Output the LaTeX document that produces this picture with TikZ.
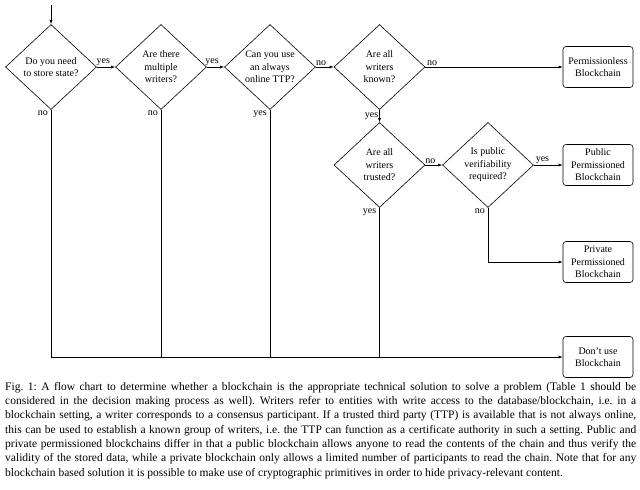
\documentclass[tikz,border=0pt]{standalone}
\usepackage{fontspec}
\setmainfont{Liberation Serif}
\usetikzlibrary{shapes.geometric,arrows.meta}
\begin{document}
\frenchspacing
\begin{tikzpicture}[x=1pt,y=-1pt,
  dec/.style={diamond, draw, line width=0.6pt, minimum width=91pt, minimum height=85pt,
    inner sep=0pt, align=center, font=\fontsize{10}{12.5}\selectfont},
  term/.style={rectangle, rounded corners=3pt, draw, line width=0.6pt, minimum width=70pt,
    minimum height=41pt, inner sep=1pt, align=center, font=\fontsize{10}{12.5}\selectfont},
  arr/.style={-{Latex[length=4pt,width=3pt]}, line width=0.6pt},
  ln/.style={line width=0.6pt},
  lbl/.style={font=\fontsize{10}{12}\selectfont, inner sep=1pt}]
\useasboundingbox (0,0) rectangle (640,490);
\fill[white] (0,0) rectangle (640,490);

\node[dec] (d1) at (51,67) {Do you need\\to store state?};
\node[dec] (d2) at (161,67) {Are there\\multiple\\writers?};
\node[dec] (d3) at (270,67) {Can you use\\an always\\online TTP?};
\node[dec] (d4) at (379.5,67) {Are all\\writers\\known?};
\node[dec] (d5) at (379.5,165) {Are all\\writers\\trusted?};
\node[dec] (d6) at (488,165) {Is public\\verifiability\\required?};
\node[term] (pl) at (598,67) {Permissionless\\Blockchain};
\node[term] (pub) at (598,165) {Public\\Permissioned\\Blockchain};
\node[term] (priv) at (598,262) {Private\\Permissioned\\Blockchain};
\node[term] (dont) at (598,357) {Don't use\\Blockchain};
\coordinate (start) at (51,5);

\draw[arr] (start) -- (d1);
\draw[arr] (d1) -- node[lbl, above, pos=0.35] {yes} (d2);
\draw[arr] (d2) -- node[lbl, above, pos=0.3] {yes} (d3);
\draw[arr] (d3) -- node[lbl, above, pos=0.3] {no} (d4);
\draw[arr] (d4) -- node[lbl, above, pos=0.05] {no} (pl);
\draw[arr] (d4) -- node[lbl, left] {yes} (d5);
\draw[arr] (d5) -- node[lbl, above, pos=0.3] {no} (d6);
\draw[arr] (d6) -- node[lbl, above, pos=0.3] {yes} (pub);

\draw[arr] (d1.south) |- (dont.west);
\draw[ln] (d2.south) -- (d2.south |- dont.west);
\draw[ln] (d3.south) -- (d3.south |- dont.west);
\draw[ln] (d5.south) -- (d5.south |- dont.west);
\draw[arr] (d6.south) |- (priv.west);

\node[lbl, anchor=north east, xshift=-2pt] (l1) at (d1.south) {no};
\node[lbl, anchor=north east, xshift=-2pt] (l2) at (d2.south) {no};
\node[lbl, anchor=north east, xshift=-2pt] (l3) at (d3.south) {yes};
\node[lbl, anchor=north east, xshift=-2pt] (l5) at (d5.south) {yes};
\node[lbl, anchor=north east, xshift=-2pt] (l6) at (d6.south) {no};

\node[anchor=north west, inner sep=0pt, text width=631pt, align=justify,
  font=\fontsize{11.5}{14.3}\selectfont] (cap) at (5,382)
{Fig.~1: A flow chart to determine whether a blockchain is the appropriate technical solution to solve a problem (Table 1 should be\linebreak
considered in the decision making process as well). Writers refer to entities with write access to the database/blockchain, i.e. in a\linebreak
blockchain setting, a writer corresponds to a consensus participant. If a trusted third party (TTP) is available that is not always online,\linebreak
this can be used to establish a known group of writers, i.e. the TTP can function as a certificate authority in such a setting. Public and\linebreak
private permissioned blockchains differ in that a public blockchain allows anyone to read the contents of the chain and thus verify the\linebreak
validity of the stored data, while a private blockchain only allows a limited number of participants to read the chain. Note that for any\linebreak
blockchain based solution it is possible to make use of cryptographic primitives in order to hide privacy-relevant content.};
\end{tikzpicture}
\end{document}
